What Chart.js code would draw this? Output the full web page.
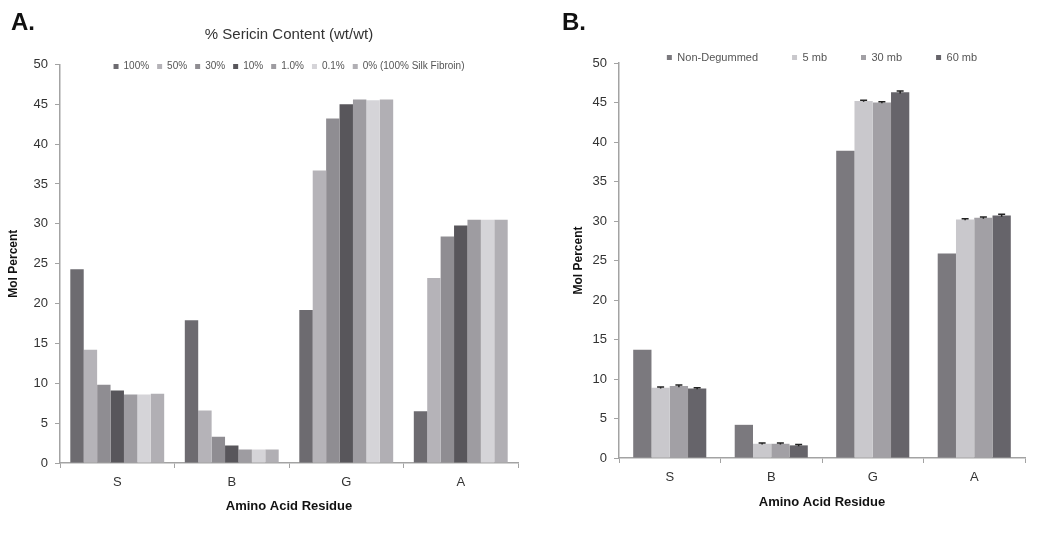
<!DOCTYPE html>
<html>
<head>
<meta charset="utf-8">
<script src="https://cdn.jsdelivr.net/npm/chart.js@4/dist/chart.umd.min.js"></script>
<style>
    body { margin: 0; background: #fff; }
    .pane { position: absolute; top: 0; width: 525px; height: 534px; }
    .tag { position: absolute; top: 8px; font: bold 24px "Liberation Sans", Arial, sans-serif; color: #111; }
</style>
</head>
<body>
<div class="pane" style="left:0"><canvas id="chart-a" width="525" height="534"></canvas></div>
<div class="pane" style="left:525px"><canvas id="chart-b" width="525" height="534"></canvas></div>
<div class="tag" style="left:11px">A.</div>
<div class="tag" style="left:562px">B.</div>
<script>
const residues = ['S', 'B', 'G', 'A'];
const yTicks = [0, 5, 10, 15, 20, 25, 30, 35, 40, 45, 50];

// panel A - % sericin content
const sericinLabels = ['100%', '50%', '30%', '10%', '1.0%', '0.1%', '0% (100% Silk Fibroin)'];
const sericin100 = [24.3, 17.9, 19.2, 6.5];
const sericin50 = [14.2, 6.6, 36.7, 23.2];
const sericin30 = [9.8, 3.3, 43.2, 28.4];
const sericin10 = [9.1, 2.2, 45.0, 29.8];
const sericin1 = [8.6, 1.7, 45.6, 30.5];
const sericin01 = [8.6, 1.7, 45.5, 30.5];
const sericin0 = [8.7, 1.7, 45.6, 30.5];
const sericinColors = ['#6d6b70', '#b5b3b8', '#8f8d92', '#58565b', '#9e9ca1', '#d5d4d8', '#b1afb4'];

// panel B - degumming time
const degumLabels = ['Non-Degummed', '5 mb', '30 mb', '60 mb'];
const nonDegummed = [13.7, 4.2, 38.9, 25.9];
const mb5 = [8.9, 1.8, 45.2, 30.2];
const mb30 = [9.1, 1.8, 45.0, 30.4];
const mb60 = [8.8, 1.6, 46.3, 30.7];
const mb5Err = [0.1, 0.1, 0.1, 0.1];
const mb30Err = [0.15, 0.1, 0.1, 0.1];
const mb60Err = [0.1, 0.1, 0.15, 0.15];
const degumColors = ['#7b797e', '#c9c8cc', '#a2a0a5', '#66646a'];

const fontFamily = '"Liberation Sans", Arial, sans-serif';
const axisGrey = '#a3a3a3';

// legend sits partly inside the plot area: squash the height it reserves,
// then let it draw past its box once the layout is done
function legendHeight(h) {
    return {
        id: 'legendHeight',
        beforeInit(chart) {
            const fit = chart.legend.fit;
            chart.legend.fit = function () {
                fit.bind(chart.legend)();
                this.height = h;
            };
        },
        afterLayout(chart) {
            chart.legend.bottom = chart.legend.top + h + 30;
        }
    };
}

const errorBars = {
    id: 'errorBars',
    afterDatasetsDraw(chart) {
        const ctx = chart.ctx;
        const y = chart.scales.y;
        chart.data.datasets.forEach((ds, i) => {
            if (!ds.errors) return;
            chart.getDatasetMeta(i).data.forEach((bar, j) => {
                const top = y.getPixelForValue(ds.data[j] + ds.errors[j]);
                const bottom = y.getPixelForValue(ds.data[j] - ds.errors[j]);
                ctx.save();
                ctx.strokeStyle = '#222';
                ctx.lineWidth = 1.5;
                ctx.beginPath();
                ctx.moveTo(bar.x, top);
                ctx.lineTo(bar.x, bottom);
                ctx.moveTo(bar.x - 3.5, top);
                ctx.lineTo(bar.x + 3.5, top);
                ctx.stroke();
                ctx.restore();
            });
        });
    }
};

function scales(yWidth, yTitlePad, xHeight, xTitlePad) {
    return {
        x: {
            afterFit: s => { s.height = xHeight; },
            border: { color: axisGrey, width: 1.5 },
            grid: { offset: true, drawOnChartArea: false, tickLength: 5, color: axisGrey },
            ticks: { color: '#333', padding: 7, font: { family: fontFamily, size: 13 } },
            title: {
                display: true, text: 'Amino Acid Residue', color: '#111',
                padding: { top: 0, bottom: xTitlePad },
                font: { family: fontFamily, size: 13, weight: 'bold' }
            }
        },
        y: {
            min: 0, max: 50,
            afterFit: s => { s.width = yWidth; },
            afterBuildTicks: s => { s.ticks = yTicks.map(v => ({ value: v })); },
            border: { color: axisGrey, width: 1.5 },
            grid: { drawOnChartArea: false, tickLength: 5, color: axisGrey },
            ticks: { color: '#333', padding: 7, font: { family: fontFamily, size: 13 } },
            title: {
                display: true, text: 'Mol Percent', color: '#111',
                padding: { top: yTitlePad, bottom: 0 },
                font: { family: fontFamily, size: 12, weight: 'bold' }
            }
        }
    };
}

function legendOpts(pad, size) {
    return {
        display: true,
        position: 'top',
        fullSize: false,
        labels: {
            boxWidth: 5, boxHeight: 5, padding: pad, color: '#555',
            font: { family: fontFamily, size: size }
        }
    };
}

const sericinData = [sericin100, sericin50, sericin30, sericin10, sericin1, sericin01, sericin0];
new Chart(document.getElementById('chart-a'), {
    type: 'bar',
    data: {
        labels: residues,
        datasets: sericinData.map((d, i) => ({
            label: sericinLabels[i],
            data: d,
            backgroundColor: sericinColors[i],
            barPercentage: 1,
            categoryPercentage: 0.82
        }))
    },
    options: {
        responsive: false,
        animation: false,
        layout: { padding: { top: 0, right: 7, bottom: 10, left: 0 } },
        plugins: {
            title: {
                display: true, text: '% Sericin Content (wt/wt)', fullSize: false, color: '#333',
                padding: { top: 26, bottom: 9.4 },
                font: { family: fontFamily, size: 15, weight: 'normal' }
            },
            legend: legendOpts(8, 10),
            tooltip: { enabled: false }
        },
        scales: scales(60, 6, 61, 10)
    },
    plugins: [legendHeight(11)]
});

const degumData = [nonDegummed, mb5, mb30, mb60];
const degumErrors = [null, mb5Err, mb30Err, mb60Err];
new Chart(document.getElementById('chart-b'), {
    type: 'bar',
    data: {
        labels: residues,
        datasets: degumData.map((d, i) => ({
            label: degumLabels[i],
            data: d,
            errors: degumErrors[i],
            backgroundColor: degumColors[i],
            barPercentage: 1,
            categoryPercentage: 0.72
        }))
    },
    options: {
        responsive: false,
        animation: false,
        layout: { padding: { top: 18, right: 25, bottom: 14, left: 0 } },
        plugins: {
            legend: legendOpts(34, 11),
            tooltip: { enabled: false }
        },
        scales: scales(94, 46, 62, 10)
    },
    plugins: [legendHeight(45), errorBars]
});
</script>
</body>
</html>
